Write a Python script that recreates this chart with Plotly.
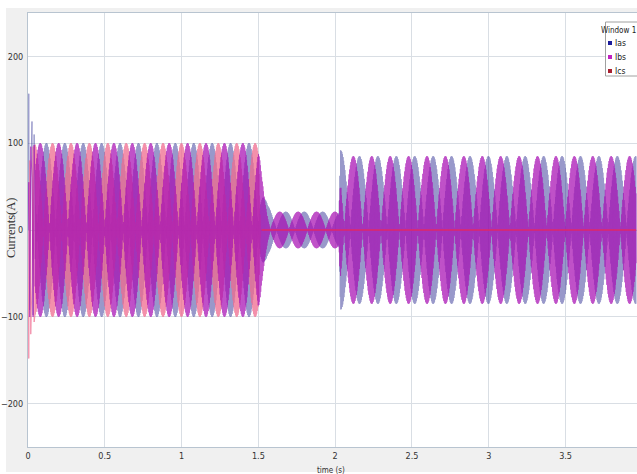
import numpy as np
import plotly.graph_objects as go

# ---- recorded stator currents (values read per interval) ----
SAMPLE_DT = 0.002             # recorder output step (s)
WAVE_HZ = 254.17              # oscillation frequency of the logged currents
T_END = 3.96                  # last recorded instant (s)
T_OPEN = 1.5                  # phase c opens here (s)

# amplitude envelope knots (time s, peak A) for phases a and b
ENV_T_AB = [0.0, 1.50, 1.52, 1.54, 1.56, 1.60, 2.025, 2.035, 2.07, 3.96]
ENV_A_AB = [100, 100, 62, 40, 28, 21, 21, 92, 85, 85]
# phase c
ENV_T_C = [0.0, 1.50, 1.515, 3.96]
ENV_A_C = [100, 100, 0, 0]

PHASE_DEG = {"Ias": 0.0, "Ibs": -120.0, "Ics": 120.0}

# start-up inrush peaks (time s, current A)
START_T = [0.0, 0.005, 0.011, 0.018, 0.026, 0.033, 0.040]
IAS_START = [0, 157, -92, 70, 125, -98, 110]
IBS_START = [0, 55, -100, 96, 60, -100, 98]
ICS_START = [0, -148, 80, -120, -60, 96, -106]

COLORS = {"Ias": "#1e1e8c", "Ibs": "#a810b4", "Ics": "#f06c90"}
OPACITY = {"Ias": 0.45, "Ics": 0.75, "Ibs": 0.72}
LEG_COLORS = {"Ias": "#1c1c9a", "Ibs": "#c020c0", "Ics": "#a82030"}
OPEN_LINE_COLOR = "#e0286a"
LEGEND_ORDER = ["Ias", "Ibs", "Ics"]

X_TICKS = [0, 0.5, 1, 1.5, 2, 2.5, 3, 3.5]
X_TICK_TEXT = ["0", "0.5", "1", "1.5", "2", "2.5", "3", "3.5"]
Y_TICKS = [-200, -100, 0, 100, 200]

t_run = np.arange(0.045, T_END, SAMPLE_DT)


def phase_current(name, env_t, env_a, start_vals):
    amp = np.interp(t_run, env_t, env_a)
    i = amp * np.sin(2 * np.pi * WAVE_HZ * t_run + np.deg2rad(PHASE_DEG[name]))
    return np.concatenate([START_T, t_run]), np.concatenate([start_vals, i])


currents = {
    "Ias": phase_current("Ias", ENV_T_AB, ENV_A_AB, IAS_START),
    "Ibs": phase_current("Ibs", ENV_T_AB, ENV_A_AB, IBS_START),
    "Ics": phase_current("Ics", ENV_T_C, ENV_A_C, ICS_START),
}

W, H = 637, 474
ML, MR, MT, MB = 28, 0, 13, 27

NARROW = "Liberation Sans Narrow, DejaVu Sans Condensed, Arial Narrow, sans-serif"

fig = go.Figure()


def add_line(x, y, name, color, opacity, width=1):
    fig.add_trace(go.Scatter(
        x=x, y=y, mode="lines", name=name,
        line=dict(color=color, width=width, simplify=False), opacity=opacity,
        showlegend=False,
    ))


tc, ic = currents["Ics"]
closed = tc <= T_OPEN + 0.02
add_line(*currents["Ias"], "Ias", COLORS["Ias"], OPACITY["Ias"])
add_line(tc[closed], ic[closed], "Ics", COLORS["Ics"], OPACITY["Ics"])
add_line(*currents["Ibs"], "Ibs", COLORS["Ibs"], OPACITY["Ibs"])
# open phase c stays at zero, drawn over the others
add_line(tc[~closed], ic[~closed], "Ics", OPEN_LINE_COLOR, 1.0, width=1.6)

tick_font = dict(family=NARROW, size=9, color="#333333")

fig.update_xaxes(
    range=[0, 3.965], tickvals=X_TICKS, ticktext=X_TICK_TEXT,
    showgrid=True, gridcolor="#d9dee4", gridwidth=1,
    showline=True, linecolor="#b8c4d0", mirror=True, zeroline=False,
    ticks="", tickfont=tick_font, ticklabelstandoff=0,
)
fig.update_yaxes(
    range=[-250, 250], tickvals=Y_TICKS,
    showgrid=True, gridcolor="#d9dee4", gridwidth=1,
    showline=True, linecolor="#b8c4d0", mirror=True, zeroline=False,
    ticks="", tickfont=tick_font, ticklabelstandoff=2,
)

# helpers to place things in pixel coordinates
pw = W - ML - MR
ph = H - MT - MB


def px(x):
    return (x - ML) / pw


def py(y):
    return 1 - (y - MT) / ph


shapes = [
    # white strips framing the grey panel
    dict(type="rect", xref="paper", yref="paper", x0=px(0), x1=px(6), y0=py(H), y1=py(0),
         fillcolor="white", line_width=0, layer="below"),
    dict(type="rect", xref="paper", yref="paper", x0=px(0), x1=px(W), y0=py(H), y1=py(472),
         fillcolor="white", line_width=0, layer="below"),
    dict(type="rect", xref="paper", yref="paper", x0=px(0), x1=px(W), y0=py(8), y1=py(0),
         fillcolor="white", line_width=0, layer="below"),
    # legend box
    dict(type="rect", xref="paper", yref="paper", x0=px(605.5), x1=px(660), y0=py(76), y1=py(22),
         fillcolor="white", line=dict(color="#a0a0a0", width=1), layer="above"),
]

leg_font = dict(family=NARROW, size=8.5, color="#222222")
annotations = [
    dict(text="Window 1", xref="paper", yref="paper", x=px(637), y=py(30), xanchor="right",
         yanchor="middle", showarrow=False, borderpad=0,
         font=dict(family=NARROW, size=8, color="#222222")),
]
for k, name in enumerate(LEGEND_ORDER):
    yc = 43 + 14 * k
    shapes.append(dict(type="rect", xref="paper", yref="paper", x0=px(608), x1=px(612),
                       y0=py(yc + 2), y1=py(yc - 2), fillcolor=LEG_COLORS[name], line_width=0,
                       layer="above"))
    annotations.append(dict(text=name, xref="paper", yref="paper", x=px(613), y=py(yc),
                            xanchor="left", yanchor="middle", showarrow=False, font=leg_font))

annotations.append(dict(text="Currents(A)", xref="paper", yref="paper", x=px(11), y=py(228),
                        xanchor="center", yanchor="middle", textangle=-90, showarrow=False,
                        font=dict(family="Liberation Serif, serif", size=12.5, color="#333333")))
annotations.append(dict(text="time (s)", xref="paper", yref="paper", x=px(331), y=py(470),
                        xanchor="center", yanchor="middle", showarrow=False,
                        font=dict(family=NARROW, size=8, color="#333333")))

fig.update_layout(
    width=W, height=H, margin=dict(l=ML, r=MR, t=MT, b=MB),
    paper_bgcolor="#f0f0f0", plot_bgcolor="white",
    shapes=shapes, annotations=annotations,
)

fig.write_html("out.html")
